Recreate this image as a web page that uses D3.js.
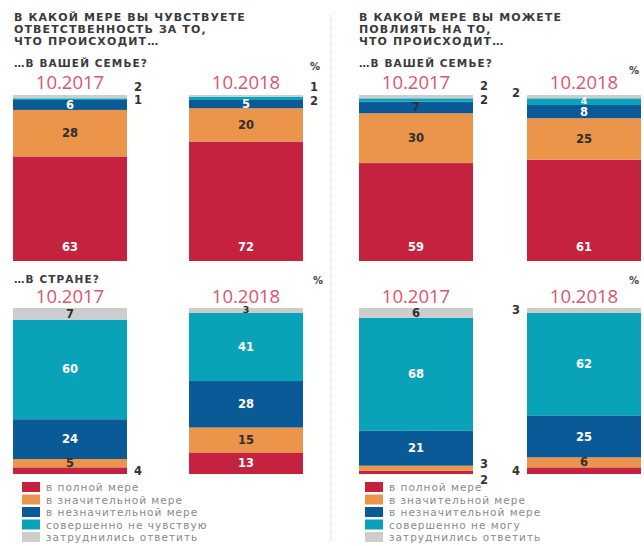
<!DOCTYPE html>
<html>
<head>
<meta charset="utf-8">
<script src="https://cdn.jsdelivr.net/npm/d3@7"></script>
<style>
  body { margin: 0; background: #fff; }
  .title { font-family: "DejaVu Sans", sans-serif; font-weight: bold; font-size: 11px; fill: #3a3a3a; letter-spacing: 1.1px; }
  .sub { font-family: "DejaVu Sans", sans-serif; font-weight: bold; font-size: 10.5px; fill: #3a3a3a; letter-spacing: 1.1px; }
  .pct { font-family: "DejaVu Sans", sans-serif; font-weight: bold; font-size: 10px; fill: #444; }
  .date { font-family: "Open Sans", sans-serif; font-size: 18.5px; fill: #d9566d; text-anchor: middle; }
  .val { font-family: "DejaVu Sans", sans-serif; font-weight: bold; font-size: 11.5px; text-anchor: middle; dominant-baseline: central; }
  .legend-text { font-family: "DejaVu Sans", sans-serif; font-size: 10.5px; fill: #8a8a8a; letter-spacing: 1px; }
</style>
</head>
<body>
<svg width="644" height="546"></svg>
<script>
// categories, bottom to top of each bar
const categories = ['full', 'significant', 'minor', 'none', 'unsure'];
const colors = ['#c4223f', '#ea954a', '#0b5a98', '#0aa2b8', '#cdcdcd'];
const years = ['10.2017', '10.2018'];

// values per panel (order = categories), [2017, 2018]
const respFamily = [[63, 28, 6, 1, 2], [72, 20, 5, 2, 1]];
const inflFamily = [[59, 30, 7, 2, 2], [61, 25, 8, 4, 2]];
const respCountry = [[4, 5, 24, 60, 7], [13, 15, 28, 41, 3]];
const inflCountry = [[2, 3, 21, 68, 6], [4, 6, 25, 62, 3]];

const legendLeft = ['в полной мере', 'в значительной мере', 'в незначительной мере', 'совершенно не чувствую', 'затруднились ответить'];
const legendRight = ['в полной мере', 'в значительной мере', 'в незначительной мере', 'совершенно не могу', 'затруднились ответить'];

const titleLeft = ['В КАКОЙ МЕРЕ ВЫ ЧУВСТВУЕТЕ', 'ОТВЕТСТВЕННОСТЬ ЗА ТО,', 'ЧТО ПРОИСХОДИТ…'];
const titleRight = ['В КАКОЙ МЕРЕ ВЫ МОЖЕТЕ', 'ПОВЛИЯТЬ НА ТО,', 'ЧТО ПРОИСХОДИТ…'];

// labels drawn beside the bar: [yearIndex, categoryIndex, side, dy]
const outsideTL = [[0, 4, 'r', -10], [0, 3, 'r', 1], [1, 4, 'r', -9], [1, 3, 'r', 3]];
const outsideTR = [[0, 4, 'r', -11], [0, 3, 'r', 0], [1, 4, 'l', -4]];
const outsideBL = [[0, 0, 'r', 0]];
const outsideBR = [[0, 0, 'r', 8], [0, 1, 'r', -4], [1, 0, 'l', 0], [1, 4, 'l', -1]];

const svg = d3.select('svg');

// layout
const barH = 166;
const panels = [
  { data: respFamily, x0: 13, x1: 303, gap: 62, top: 95, sub: '…В ВАШЕЙ СЕМЬЕ?', subX: 14, subY: 67, pctX: 310, pctY: 70, dateY: 89, outside: outsideTL },
  { data: inflFamily, x0: 359, x1: 641, gap: 54, top: 95, sub: '…В ВАШЕЙ СЕМЬЕ?', subX: 359, subY: 67, pctX: 629, pctY: 74, dateY: 89, outside: outsideTR },
  { data: respCountry, x0: 13, x1: 303, gap: 62, top: 308, sub: '…В СТРАНЕ?', subX: 14, subY: 283, pctX: 313, pctY: 284, dateY: 303, outside: outsideBL },
  { data: inflCountry, x0: 359, x1: 641, gap: 54, top: 308, sub: null, pctX: 629, pctY: 284, dateY: 303, outside: outsideBR }
];

const y = d3.scaleLinear().domain([0, 100]).range([barH, 0]);

// titles
[[titleLeft, 14], [titleRight, 359]].forEach(([lines, tx]) => {
  svg.append('g').selectAll('text')
    .data(lines)
    .enter()
    .append('text')
    .attr('class', 'title')
    .attr('x', tx)
    .attr('y', (d, i) => 21 + i * 12)
    .text(d => d);
});

// dotted separator
svg.append('line')
  .attr('x1', 331).attr('x2', 331)
  .attr('y1', 14).attr('y2', 542)
  .attr('stroke', '#c8c8c8')
  .attr('stroke-width', 1)
  .attr('stroke-dasharray', '1,1');

panels.forEach(p => {
  const bw = 114;
  const step = bw + p.gap;
  const x = d3.scaleBand()
    .domain(years)
    .range([p.x0, p.x1])
    .paddingInner(p.gap / step)
    .paddingOuter(0);

  const g = svg.append('g').attr('transform', `translate(0, ${p.top})`);

  if (p.sub) {
    svg.append('text').attr('class', 'sub')
      .attr('x', p.subX).attr('y', p.subY)
      .text(p.sub);
  }
  svg.append('text').attr('class', 'pct')
    .attr('x', p.pctX).attr('y', p.pctY).text('%');

  years.forEach((yr, yi) => {
    const vals = p.data[yi];
    const stack = [];
    let acc = 0;
    vals.forEach((v, ci) => { stack.push({ ci, v, y0: acc, y1: acc + v }); acc += v; });

    svg.append('text').attr('class', 'date')
      .attr('x', x(yr) + x.bandwidth() / 2)
      .attr('y', p.dateY)
      .text(yr);

    g.selectAll(null)
      .data(stack)
      .enter()
      .append('rect')
      .attr('x', x(yr))
      .attr('width', x.bandwidth())
      .attr('y', d => y(d.y1))
      .attr('height', d => y(d.y0) - y(d.y1))
      .attr('fill', d => colors[d.ci]);

    const outs = p.outside.filter(o => o[0] === yi);
    const inside = stack.filter(d => !outs.some(o => o[1] === d.ci));

    g.selectAll(null)
      .data(inside)
      .enter()
      .append('text')
      .attr('class', 'val')
      .attr('x', x(yr) + x.bandwidth() / 2)
      .attr('y', d => (d.ci === 0 && d.v >= 50) ? y(d.y0) - 14 : (y(d.y0) + y(d.y1)) / 2 - (d.v < 5 ? 1 : 0))
      .style('font-size', d => d.v < 5 ? '9.5px' : null)
      .attr('fill', d => (d.ci === 1 || d.ci === 4 || (p.data === inflFamily && yi === 0 && d.ci === 2)) ? '#2e2e2e' : '#fff')
      .text(d => d.v);

    outs.forEach(o => {
      const d = stack[o[1]];
      const tx = o[2] === 'r' ? x(yr) + x.bandwidth() + 11 : x(yr) - 11;
      g.append('text')
        .attr('class', 'val')
        .attr('x', tx)
        .attr('y', (y(d.y0) + y(d.y1)) / 2 + o[3])
        .attr('fill', '#333')
        .text(d.v);
    });
  });
});

// legends
[[legendLeft, 22], [legendRight, 365]].forEach(([labels, lx]) => {
  const lg = svg.append('g').attr('transform', `translate(${lx}, 482)`);
  const row = lg.selectAll('g')
    .data(labels)
    .enter()
    .append('g')
    .attr('transform', (d, i) => `translate(0, ${i * 12.5})`);
  row.append('rect')
    .attr('width', 18).attr('height', 10)
    .attr('fill', (d, i) => colors[i]);
  row.append('text')
    .attr('class', 'legend-text')
    .attr('x', 24).attr('y', 9)
    .text(d => d);
});
</script>
</body>
</html>
